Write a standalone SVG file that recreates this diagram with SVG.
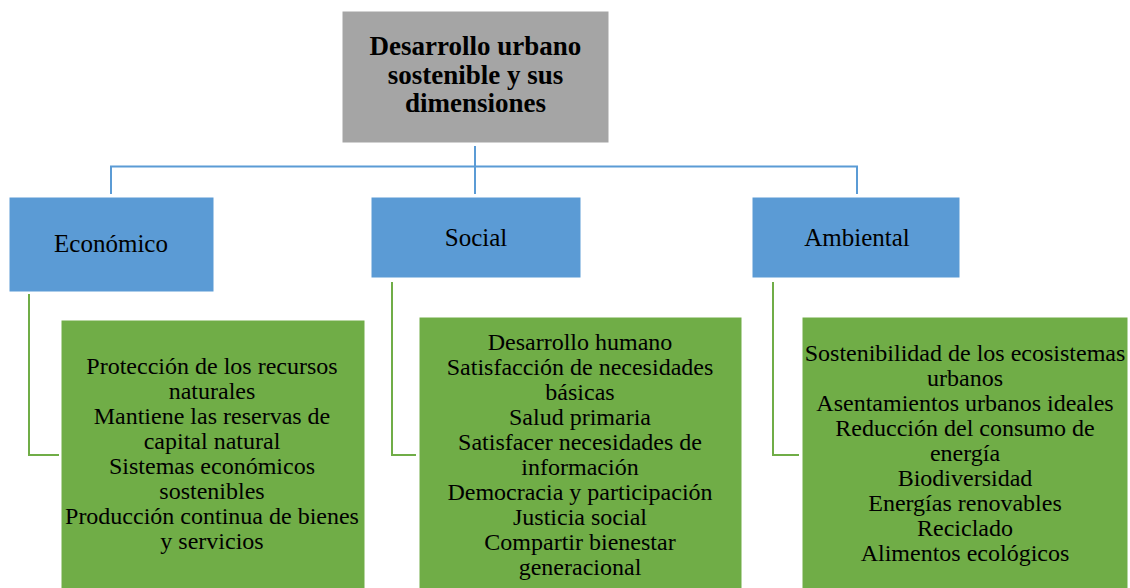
<svg xmlns="http://www.w3.org/2000/svg" width="1130" height="588" viewBox="0 0 1130 588">
<style>
.bg{fill:#ffffff}
.title{fill:#A5A5A5;stroke:#ffffff;stroke-width:1}
.dim{fill:#5B9BD5;stroke:#ffffff;stroke-width:1}
.item{fill:#70AD47;stroke:#ffffff;stroke-width:1}
.cb{fill:none;stroke:#5B9BD5;stroke-width:2}
.cg{fill:none;stroke:#70AD47;stroke-width:2}
.t{font-family:'Liberation Serif','Times New Roman',Times,serif;fill:#000000;text-anchor:middle}
.tt{font-size:27px;font-weight:bold}
.lb{font-size:25px}
.it{font-size:24px}
</style>
<rect class="bg" x="0" y="0" width="1130" height="588"/>
<g id="connectors">
<path class="cb" d="M475,146 V194 M111,194 V166.5 H857 V194"/>
<path class="cg" d="M29,294 V455 H59"/>
<path class="cg" d="M392,282 V455 H416"/>
<path class="cg" d="M773,282 V455 H799"/>
</g>
<g id="root" font-family="Liberation Serif, serif">
<rect class="title" x="342" y="11" width="267" height="132"/>
<text class="t tt" x="475.5" y="55">Desarrollo urbano</text>
<text class="t tt" x="475.5" y="83.5">sostenible y sus</text>
<text class="t tt" x="475.5" y="112">dimensiones</text>
</g>
<g id="economico">
<rect class="dim" x="9" y="197" width="205" height="95"/>
<text class="t lb" x="111" y="252">Económico</text>
</g>
<g id="social">
<rect class="dim" x="371" y="197" width="210" height="81"/>
<text class="t lb" x="476" y="245.5">Social</text>
</g>
<g id="ambiental">
<rect class="dim" x="752" y="197" width="208" height="81"/>
<text class="t lb" x="857" y="245.5">Ambiental</text>
</g>
<g id="economico-items">
<rect class="item" x="61" y="320" width="304" height="270"/>
<text class="t it" x="212" y="374">Protección de los recursos</text>
<text class="t it" x="212" y="399">naturales</text>
<text class="t it" x="212" y="424">Mantiene las reservas de</text>
<text class="t it" x="212" y="449">capital natural</text>
<text class="t it" x="212" y="474">Sistemas económicos</text>
<text class="t it" x="212" y="499">sostenibles</text>
<text class="t it" x="212" y="524">Producción continua de bienes</text>
<text class="t it" x="212" y="549">y servicios</text>
</g>
<g id="social-items">
<rect class="item" x="419" y="317" width="323" height="273"/>
<text class="t it" x="580" y="350">Desarrollo humano</text>
<text class="t it" x="580" y="375">Satisfacción de necesidades</text>
<text class="t it" x="580" y="400">básicas</text>
<text class="t it" x="580" y="425">Salud primaria</text>
<text class="t it" x="580" y="450">Satisfacer necesidades de</text>
<text class="t it" x="580" y="475">información</text>
<text class="t it" x="580" y="500">Democracia y participación</text>
<text class="t it" x="580" y="525">Justicia social</text>
<text class="t it" x="580" y="550">Compartir bienestar</text>
<text class="t it" x="580" y="575">generacional</text>
</g>
<g id="ambiental-items">
<rect class="item" x="802" y="317" width="326" height="273"/>
<text class="t it" x="965" y="361">Sostenibilidad de los ecosistemas</text>
<text class="t it" x="965" y="386">urbanos</text>
<text class="t it" x="965" y="411">Asentamientos urbanos ideales</text>
<text class="t it" x="965" y="436">Reducción del consumo de</text>
<text class="t it" x="965" y="461">energía</text>
<text class="t it" x="965" y="486">Biodiversidad</text>
<text class="t it" x="965" y="511">Energías renovables</text>
<text class="t it" x="965" y="536">Reciclado</text>
<text class="t it" x="965" y="561">Alimentos ecológicos</text>
</g>
</svg>
